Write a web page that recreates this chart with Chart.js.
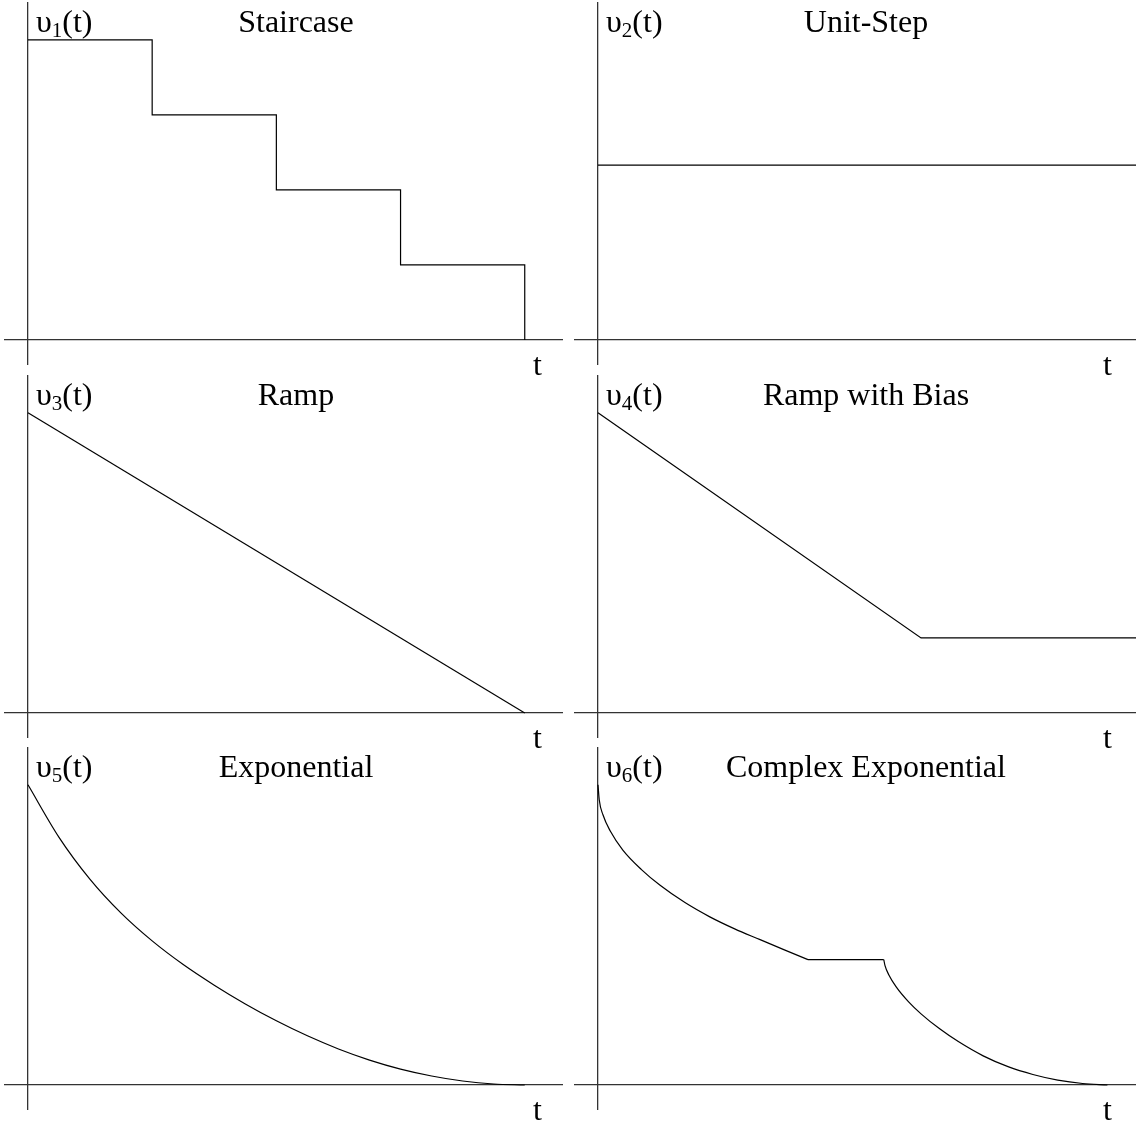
<!DOCTYPE html>
<html lang="en">
<head>
  <meta charset="UTF-8">
  <title>Signal Waveforms</title>
  <script src="https://cdn.jsdelivr.net/npm/chart.js@4.4.0/dist/chart.umd.min.js"></script>
  <style>
    body {
      margin: 0;
      background: #fff;
      width: 1136px;
      height: 1124px;
      position: relative;
      overflow: hidden;
    }
    canvas { position: absolute; }
  </style>
</head>
<body>
  <div id="board"></div>

  <script>
    // axis extents (t along x, value along y)
    const tMin = -0.185;
    const tMaxLeft = 4.3;
    const tMaxRight = 4.33;
    const vMin = -0.32;
    const vMax = 4.49;

    const titles = ["Staircase", "Unit-Step", "Ramp", "Ramp with Bias", "Exponential", "Complex Exponential"];
    const subscripts = ["1", "2", "3", "4", "5", "6"];

    // v1: staircase
    const stairT = [0, 1, 1, 2, 2, 3, 3, 4, 4];
    const stairV = [4, 4, 3, 3, 2, 2, 1, 1, 0];

    // v2: unit step
    const stepT = [0, 4.33];
    const stepV = [2.33, 2.33];

    // v3: ramp
    const rampT = [0, 4];
    const rampV = [4, 0];

    // v4: ramp with bias
    const biasT = [0, 2.6, 4.33];
    const biasV = [4, 1, 1];

    // v5: exponential
    const expT = [0, 0.25, 0.5, 0.75, 1.0, 1.25, 1.5, 1.75, 2.0, 2.25, 2.5, 2.75, 3.0, 3.25, 3.5, 3.75, 4.0];
    const expV = [4, 3.30, 2.74, 2.29, 1.92, 1.605, 1.33, 1.08, 0.855, 0.655, 0.48, 0.332, 0.212, 0.12, 0.053, 0.013, 0];

    // v6: complex exponential (decay, hold, decay)
    const cexpT1 = [0, 0.01, 0.04, 0.1, 0.2, 0.35, 0.5, 0.7, 0.9, 1.1, 1.3, 1.5, 1.69];
    const cexpV1 = [4, 3.80, 3.60, 3.38, 3.13, 2.87, 2.66, 2.43, 2.24, 2.08, 1.94, 1.80, 1.67];
    const holdT = [1.69, 2.30];
    const holdV = [1.67, 1.67];
    const cexpT2 = [2.30, 2.31, 2.34, 2.40, 2.50, 2.60, 2.75, 2.90, 3.10, 3.30, 3.50, 3.70, 3.90, 4.10];
    const cexpV2 = [1.67, 1.59, 1.47, 1.308, 1.108, 0.948, 0.748, 0.578, 0.388, 0.244, 0.14, 0.065, 0.02, 0];

    const toPoints = (ts, vs) => ts.map((t, i) => ({ x: t, y: vs[i] }));

    const panels = [
      [{ t: stairT, v: stairV }],
      [{ t: stepT, v: stepV }],
      [{ t: rampT, v: rampV }],
      [{ t: biasT, v: biasV }],
      [{ t: expT, v: expV, smooth: true }],
      [{ t: cexpT1, v: cexpV1, smooth: true }, { t: holdT, v: holdV }, { t: cexpT2, v: cexpV2, smooth: true }]
    ];

    const SERIF = '"Liberation Serif", "Times New Roman", serif';

    // draws the v_n(t) label, the title and the "t" under the time axis
    const panelText = {
      id: 'panelText',
      afterDraw(chart, args, opts) {
        const { ctx, scales: { x, y } } = chart;
        const x0 = x.getPixelForValue(0);
        const y0 = y.getPixelForValue(0);
        const base = y0 - 308;
        ctx.save();
        ctx.fillStyle = '#000';
        ctx.textBaseline = 'alphabetic';
        ctx.textAlign = 'left';

        let px = x0 + 8;
        ctx.font = '32px ' + SERIF;
        ctx.fillText('\u03C5', px, base);
        px += ctx.measureText('\u03C5').width;
        ctx.font = '21px ' + SERIF;
        ctx.fillText(opts.sub, px, base + 5);
        px += ctx.measureText(opts.sub).width;
        ctx.font = '32px ' + SERIF;
        ctx.fillText('(t)', px, base);

        ctx.textAlign = 'center';
        ctx.fillText(opts.title, x0 + 268, base);

        ctx.textAlign = 'left';
        ctx.fillText('t', x0 + 505, y0 + 35);
        ctx.restore();
      }
    };

    const board = document.getElementById('board');

    panels.forEach((series, i) => {
      const col = i % 2;
      const row = Math.floor(i / 2);
      const canvas = document.createElement('canvas');
      const w = col === 0 ? 570 : 566;
      const h = 382;
      canvas.width = w;
      canvas.height = h;
      canvas.style.left = (col * 570) + 'px';
      canvas.style.top = Math.round(row * 372.5) + 'px';
      board.appendChild(canvas);

      new Chart(canvas.getContext('2d'), {
        type: 'scatter',
        data: {
          datasets: series.map(s => ({
            data: toPoints(s.t, s.v),
            showLine: true,
            borderColor: '#000',
            borderWidth: 1.2,
            pointRadius: 0,
            fill: false,
            cubicInterpolationMode: s.smooth ? 'monotone' : 'default',
            tension: 0
          }))
        },
        options: {
          responsive: false,
          animation: false,
          events: [],
          layout: { padding: { left: 5, right: col === 0 ? 8 : 0, top: 3, bottom: 18 } },
          plugins: {
            legend: { display: false },
            tooltip: { enabled: false },
            panelText: { title: titles[i], sub: subscripts[i] }
          },
          scales: {
            x: {
              type: 'linear',
              position: { y: 0 },
              min: tMin,
              max: col === 0 ? tMaxLeft : tMaxRight,
              ticks: { display: false },
              grid: { display: false, drawTicks: false },
              border: { display: true, color: '#333', width: 1.3 }
            },
            y: {
              type: 'linear',
              position: { x: 0 },
              min: vMin,
              max: vMax,
              ticks: { display: false },
              grid: { display: false, drawTicks: false },
              border: { display: true, color: '#333', width: 1.3 }
            }
          }
        },
        plugins: [panelText]
      });
    });
  </script>
</body>
</html>
